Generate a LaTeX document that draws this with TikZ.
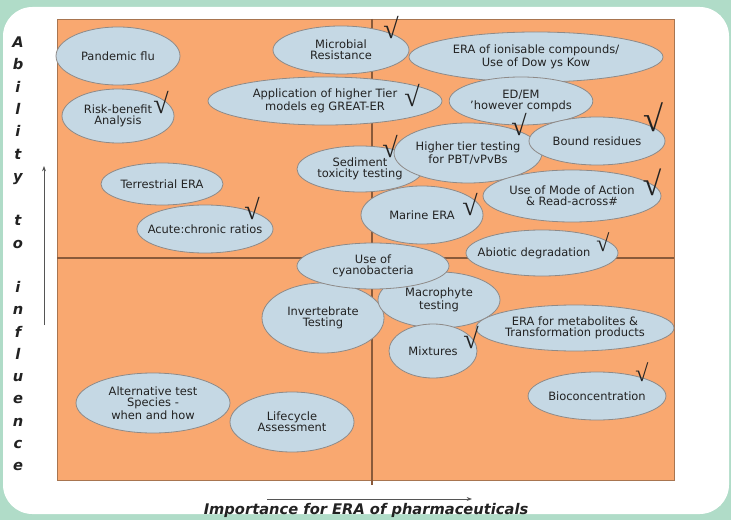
\documentclass[tikz,border=0pt]{standalone}
\usepackage{xcolor}
\usepackage{tikz}
\usepackage{fontspec}
\setmainfont{DejaVu Sans}
\newfontfamily\tickfont{Liberation Serif}
\usetikzlibrary{shapes.geometric, arrows.meta, positioning}
\definecolor{framegreen}{HTML}{B0DCC8}
\definecolor{plotorange}{HTML}{F9A870}
\definecolor{plotedge}{HTML}{A87550}
\definecolor{splitline}{HTML}{8A5A3A}
\definecolor{blobblue}{HTML}{C5D8E4}
\definecolor{blobedge}{HTML}{8E8A88}
\definecolor{axisgrey}{HTML}{555555}
\definecolor{inkdark}{HTML}{222222}
\tikzstyle{blob} = [ellipse, draw=blobedge, fill=blobblue, line width=0.6pt, inner sep=0pt, align=center, text=inkdark, font=\fontsize{8.6}{8.3}\selectfont]
\tikzstyle{okmark} = [inner sep=0pt, text=inkdark, font=\tickfont\fontsize{21}{21}\selectfont]
\tikzstyle{axislabel} = [inner sep=0pt, text=inkdark, align=center, font=\bfseries\itshape\fontsize{11}{11}\selectfont]
\tikzstyle{axisarrow} = [line width=0.7pt, color=axisgrey, -{Stealth[length=4pt, width=3pt]}]
\tikzset{radii/.style 2 args={minimum width=1.5*#1pt, minimum height=1.5*#2pt}}

\begin{document}
\begin{tikzpicture}[x=0.75pt, y=-0.75pt]
    \useasboundingbox (0,0) rectangle (731,520);
    \fill[framegreen] (0,0) rectangle (731,520);
    \fill[white, rounded corners=22pt] (3,7) rectangle (729,514);
    % the grid
    \draw[plotedge, fill=plotorange, line width=0.6pt] (57,19) rectangle (674,480);
    \draw[splitline, line width=0.8pt] (372,19) -- (372,485);
    \draw[splitline, line width=0.8pt] (57,258) -- (674,258);

    % upper left
    \node[blob, radii={62}{29}] (pandemic) at (118,56) {Pandemic flu};
    \node[blob, radii={56}{27}] (riskbenefit) at (118,116) {Risk-benefit\\Analysis};
    \node[blob, radii={61}{21}] (terrestrial) at (162,184) {Terrestrial ERA};
    \node[blob, radii={68}{24}, inner sep=-8pt] (acutechronic) at (205,229) {Acute:chronic ratios};
    \node[blob, radii={68}{24}] (microbial) at (341,50) {Microbial\\Resistance};
    \node[blob, radii={117}{24}] (highermodels) at (325,101) {Application of higher Tier\\models eg GREAT-ER};
    \node[blob, radii={63}{23}] (sediment) at (360,169) {Sediment\\toxicity testing};

    % upper right
    \node[blob, radii={127}{25}] (ionisable) at (536,57) {ERA of ionisable compounds/\\Use of Dow ys Kow};
    \node[blob, radii={68}{24}] (edem) at (521,101) {ED/EM\\'however compds};
    \node[blob, radii={61}{30}] (pbt) at (468,153) {Higher tier testing\\for PBT/vPvBs};
    \node[blob, radii={68}{24}] (bound) at (597,141) {Bound residues};
    \node[blob, radii={61}{29}] (marine) at (422,215) {Marine ERA};
    \node[blob, radii={89}{26}] (modeaction) at (572,196) {Use of Mode of Action\\\& Read-across\#};
    \node[blob, radii={76}{23}] (abiotic) at (542,253) {\makebox[0pt]{Abiotic degradation\hspace{12pt}}};

    % lower half
    \node[blob, radii={61}{35}] (invertebrate) at (323,318) {Invertebrate\\Testing};
    \node[blob, radii={61}{28}] (macrophyte) at (439,300) {Macrophyte\\testing};
    \node[blob, radii={44}{27}] (mixtures) at (433,351) {Mixtures};
    \node[blob, radii={99}{23}] (metabolites) at (575,328) {ERA for metabolites \&\\Transformation products};
    \node[blob, radii={76}{23}] (cyano) at (373,266) {Use of\\cyanobacteria};
    \node[blob, radii={68}{24}] (bioconc) at (597,396) {Bioconcentration};
    \node[blob, radii={77}{30}] (alternative) at (153,403) {Alternative test\\Species -\\when and how};
    \node[blob, radii={62}{30}] (lifecycle) at (292,422) {Lifecycle\\Assessment};

    % ticks
    \node[okmark] (okmicrobial) at (391,28) {√};
    \node[okmark] (okrisk) at (161,103) {√};
    \node[okmark] (okmodels) at (412,96) {√};
    \node[okmark] (okpbt) at (519,125) {√};
    \node[okmark, scale=1.3] (okbound) at (653,117) {√};
    \node[okmark] (oksediment) at (390,147) {√};
    \node[okmark] (okmarine) at (470,205) {√};
    \node[okmark, scale=1.2] (okmode) at (652,182) {√};
    \node[okmark] (okacute) at (252,209) {√};
    \node[okmark, scale=0.85] (okabiotic) at (603,242) {√};
    \node[okmark] (okmixtures) at (471,338) {√};
    \node[okmark, scale=0.85] (okbioconc) at (642,372) {√};

    % axes
    \coordinate (ylow) at (44,325);
    \coordinate (yhigh) at (44,166);
    \coordinate (xlow) at (267,499);
    \coordinate (xhigh) at (472,499);
    \draw[axisarrow] (ylow) -- (yhigh);
    \draw[axisarrow] (xlow) -- (xhigh);
    \node[axislabel] (xtitle) at (366,510) {Importance for ERA of pharmaceuticals};
    \node[axislabel, font=\bfseries\itshape\fontsize{11}{16.7}\selectfont] (ytitle) at (18,254)
        {A\\b\\i\\l\\i\\t\\y\\[16.7pt]t\\o\\[16.7pt]i\\n\\f\\l\\u\\e\\n\\c\\e};
\end{tikzpicture}
\end{document}
